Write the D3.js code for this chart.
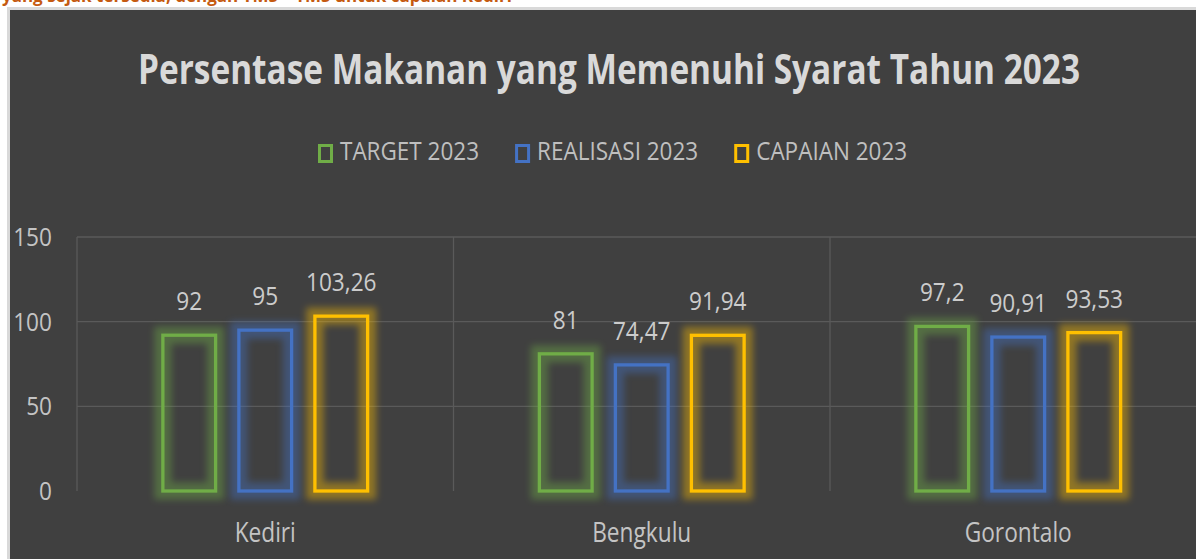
<!DOCTYPE html>
<html>
<head>
<meta charset="utf-8">
<script src="https://cdn.jsdelivr.net/npm/d3@7"></script>
<style>
  html, body { margin: 0; padding: 0; background: #fff; overflow: hidden; }
  svg { display: block; font-family: "Open Sans", "Noto Sans", sans-serif; }
</style>
</head>
<body>
<div id="chart"></div>
<script>
// chart data
const categories = ["Kediri", "Bengkulu", "Gorontalo"];
const seriesNames = ["TARGET 2023", "REALISASI 2023", "CAPAIAN 2023"];
const target2023 = [92, 81, 97.2];
const realisasi2023 = [95, 74.47, 90.91];
const capaian2023 = [103.26, 91.94, 93.53];
const yTicks = [0, 50, 100, 150];

const seriesValues = [target2023, realisasi2023, capaian2023];
const colors = ["#70ad47", "#4472c4", "#ffc000"];

const width = 1196, height = 559;
const plot = { left: 77, right: 1206.5, top: 237, bottom: 491 };

const svg = d3.select("#chart").append("svg")
    .attr("width", width)
    .attr("height", height);

// glow filter
const defs = svg.append("defs");
defs.append("filter")
    .attr("id", "glow")
    .attr("x", "-30%").attr("y", "-30%")
    .attr("width", "160%").attr("height", "160%")
  .append("feGaussianBlur")
    .attr("stdDeviation", 3.5);

// narrow the glyphs a bit, the original used Calibri
const squeeze = (sel, k) => sel.each(function () {
    this.setAttribute("textLength", this.getComputedTextLength() * k);
    this.setAttribute("lengthAdjust", "spacingAndGlyphs");
});

// cut-off caption of the surrounding document
svg.append("text")
    .attr("x", 2).attr("y", 1.5)
    .attr("fill", "#c55a11")
    .attr("font-weight", 700)
    .attr("font-size", 17)
    .text("yang sejak tersedia, dengan TMS – TMS untuk capaian Kediri");

// chart background + frame
svg.append("rect")
    .attr("x", 8.5).attr("y", 8.5)
    .attr("width", width + 20).attr("height", height + 20)
    .attr("fill", "#404040")
    .attr("stroke", "#d9d9d9")
    .attr("stroke-width", 3);

// title
svg.append("text")
    .attr("x", 609).attr("y", 83.5)
    .attr("text-anchor", "middle")
    .attr("fill", "#d9d9d9")
    .attr("font-size", 42)
    .attr("font-weight", 700)
    .attr("textLength", 942)
    .attr("lengthAdjust", "spacingAndGlyphs")
    .text("Persentase Makanan yang Memenuhi Syarat Tahun 2023");

// scales
const x0 = d3.scaleBand().domain(categories).range([plot.left, plot.right]).padding(0);
const x1 = d3.scaleBand().domain(seriesNames).range([0, x0.bandwidth()])
    .paddingInner(0.263).paddingOuter(1.108);
const y = d3.scaleLinear().domain([0, 150]).range([plot.bottom, plot.top]);

// gridlines
const grid = svg.append("g").attr("stroke", "#5a5a5a").attr("stroke-width", 1.3);
grid.selectAll("line.h")
    .data(yTicks.filter(d => d > 0))
    .join("line")
    .attr("x1", plot.left).attr("x2", plot.right)
    .attr("y1", d => y(d)).attr("y2", d => y(d));
grid.selectAll("line.v")
    .data(categories)
    .join("line")
    .attr("x1", d => x0(d)).attr("x2", d => x0(d))
    .attr("y1", plot.top).attr("y2", plot.bottom);

// y axis labels
const yLab = svg.append("g").selectAll("text")
    .data(yTicks)
    .join("text")
    .attr("x", 52)
    .attr("y", d => y(d) + 9)
    .attr("text-anchor", "end")
    .attr("fill", "#c4c4c4")
    .attr("font-size", 26)
    .text(d => d);
squeeze(yLab, 0.87);

// bars
const sw = 3.3;
const groups = svg.append("g").selectAll("g")
    .data(categories)
    .join("g")
    .attr("transform", d => `translate(${x0(d)},0)`);

const cells = groups.selectAll("g")
    .data((c, ci) => seriesNames.map((s, si) => ({ s, si, v: seriesValues[si][ci] })))
    .join("g");

cells.append("rect")
    .attr("x", d => x1(d.s) + sw / 2)
    .attr("width", x1.bandwidth() - sw)
    .attr("y", d => y(d.v))
    .attr("height", d => y(0) - y(d.v))
    .attr("fill", "none")
    .attr("stroke", d => colors[d.si])
    .attr("stroke-width", 17)
    .attr("opacity", 0.42)
    .attr("filter", "url(#glow)");

cells.append("rect")
    .attr("x", d => x1(d.s) + sw / 2)
    .attr("width", x1.bandwidth() - sw)
    .attr("y", d => y(d.v))
    .attr("height", d => y(0) - y(d.v))
    .attr("fill", "none")
    .attr("stroke", d => colors[d.si])
    .attr("stroke-width", sw);

const valLab = cells.append("text")
    .attr("x", d => x1(d.s) + x1.bandwidth() / 2)
    .attr("y", d => y(d.v) - 25)
    .attr("text-anchor", "middle")
    .attr("fill", "#cccccc")
    .attr("font-size", 26)
    .text(d => String(d.v).replace(".", ","));
squeeze(valLab, 0.87);

// category labels
const catLab = svg.append("g").selectAll("text")
    .data(categories)
    .join("text")
    .attr("x", d => x0(d) + x0.bandwidth() / 2)
    .attr("y", 542)
    .attr("text-anchor", "middle")
    .attr("fill", "#c4c4c4")
    .attr("font-size", 27)
    .text(d => d);
squeeze(catLab, 0.84);

// legend
const legend = svg.append("g");
let lx = 318;
seriesNames.forEach((name, i) => {
    legend.append("rect")
        .attr("x", lx + 1.5).attr("y", 145.5)
        .attr("width", 12).attr("height", 16)
        .attr("fill", "none")
        .attr("stroke", colors[i])
        .attr("stroke-width", 3);
    const t = legend.append("text")
        .attr("x", lx + 22).attr("y", 160.3)
        .attr("fill", "#bfbfbf")
        .attr("font-size", 25)
        .text(name);
    squeeze(t, 0.9);
    lx += 22 + t.node().getComputedTextLength() + 36;
});
</script>
</body>
</html>
